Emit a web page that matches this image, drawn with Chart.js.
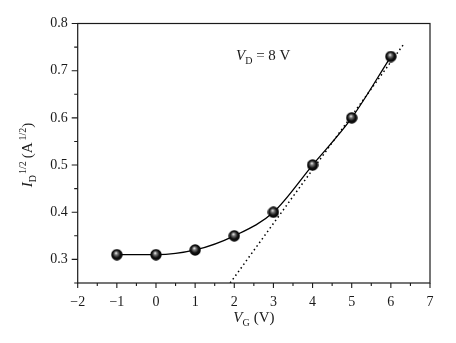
<!DOCTYPE html>
<html>
<head>
<meta charset="utf-8">
<script src="https://cdn.jsdelivr.net/npm/chart.js@4.4.1/dist/chart.umd.min.js"></script>
<style>
  html, body { margin: 0; padding: 0; background: #fff; }
  #wrap { width: 456px; height: 343px; }
  canvas { display: block; }
</style>
</head>
<body>
<div id="wrap"><canvas id="c" width="456" height="343" style="width:456px;height:343px"></canvas></div>
<script>
// Transfer characteristic: square root of drain current vs gate voltage
const gateVoltage = [-1, 0, 1, 2, 3, 4, 5, 6];
const sqrtDrainCurrent = [0.31, 0.31, 0.32, 0.35, 0.40, 0.50, 0.60, 0.73];

// Linear extrapolation of the saturation region (threshold voltage)
const fitGate = [1.895, 6.345];
const fitSqrtCurrent = [0.25, 0.758];

// Axis tick labels
const xTickValues = [-2, -1, 0, 1, 2, 3, 4, 5, 6, 7];
const xTickLabels = ['\u22122', '\u22121', '0', '1', '2', '3', '4', '5', '6', '7'];
const yTickValues = [0.3, 0.4, 0.5, 0.6, 0.7, 0.8];
const yTickLabels = ['0.3', '0.4', '0.5', '0.6', '0.7', '0.8'];

const SERIF = "'Liberation Serif', 'Times New Roman', serif";
const INK = '#1a1a1a';

// Shaded sphere used as the point marker
function makeBall(d) {
  const cv = document.createElement('canvas');
  cv.width = d; cv.height = d;
  const g = cv.getContext('2d');
  const r = d / 2;
  const grad = g.createRadialGradient(r * 0.85, r * 0.7, 0.3, r, r, r);
  grad.addColorStop(0, '#e8e8e8');
  grad.addColorStop(0.22, '#7a7a7a');
  grad.addColorStop(0.6, '#111');
  grad.addColorStop(1, '#000');
  g.fillStyle = grad;
  g.beginPath();
  g.arc(r, r, r - 0.3, 0, Math.PI * 2);
  g.fill();
  return cv;
}
const ball = makeBall(12);

function labelFor(values, labels, v) {
  for (let i = 0; i < values.length; i++) {
    if (Math.abs(values[i] - v) < 1e-6) return labels[i];
  }
  return '';
}

// Draw a run of text pieces (italic / sub / superscript) starting at x, baseline y
function drawRuns(ctx, runs, x, y, align) {
  const fontOf = r => (r.italic ? 'italic ' : '') + r.size + 'px ' + SERIF;
  let total = 0;
  runs.forEach(r => { ctx.font = fontOf(r); total += ctx.measureText(r.text).width + (r.gap || 0); });
  let cx = align === 'center' ? x - total / 2 : x;
  ctx.textBaseline = 'alphabetic';
  ctx.textAlign = 'left';
  runs.forEach(r => {
    ctx.font = fontOf(r);
    ctx.fillText(r.text, cx, y + (r.dy || 0));
    cx += ctx.measureText(r.text).width + (r.gap || 0);
  });
}

const framePlugin = {
  id: 'frameAndLabels',
  afterDraw(chart) {
    const { ctx, chartArea: a, scales } = chart;
    ctx.save();
    ctx.strokeStyle = INK;
    ctx.lineWidth = 1.2;
    ctx.strokeRect(a.left, a.top, a.right - a.left, a.bottom - a.top);

    // outward tick marks: long at labelled values, short in between
    ctx.lineWidth = 1.1;
    ctx.beginPath();
    scales.x.ticks.forEach(t => {
      const px = scales.x.getPixelForValue(t.value);
      const len = Number.isInteger(Math.round(t.value * 1000) / 1000) ? 5 : 3;
      ctx.moveTo(px, a.bottom);
      ctx.lineTo(px, a.bottom + len);
    });
    scales.y.ticks.forEach(t => {
      const py = scales.y.getPixelForValue(t.value);
      const major = labelFor(yTickValues, yTickLabels, t.value) !== '';
      ctx.moveTo(a.left, py);
      ctx.lineTo(a.left - (major ? 6 : 3.5), py);
    });
    ctx.stroke();

    ctx.fillStyle = INK;
    // x axis title: V_G (V)
    drawRuns(ctx, [
      { text: 'V', italic: true, size: 15 },
      { text: 'G', size: 10, dy: 4, gap: 4 },
      { text: '(V)', size: 15 }
    ], (a.left + a.right) / 2, 322, 'center');

    // y axis title: I_D^{1/2} (A^{1/2})
    ctx.save();
    ctx.translate(32, 155);
    ctx.rotate(-Math.PI / 2);
    drawRuns(ctx, [
      { text: 'I', italic: true, size: 15 },
      { text: 'D', size: 10, dy: 4, gap: 1 },
      { text: '1/2', size: 10, dy: -6, gap: 3 },
      { text: '(A', size: 15, gap: 2 },
      { text: '1/2', size: 10, dy: -6 },
      { text: ')', size: 15 }
    ], 0, 0, 'center');
    ctx.restore();

    // annotation: V_D = 8 V
    drawRuns(ctx, [
      { text: 'V', italic: true, size: 15 },
      { text: 'D', size: 10, dy: 4 },
      { text: ' = 8 V', size: 15 }
    ], 236, 60, 'left');
    ctx.restore();
  }
};

Chart.defaults.font.family = SERIF;
Chart.defaults.color = INK;

new Chart(document.getElementById('c'), {
  type: 'scatter',
  data: {
    datasets: [
      {
        label: 'measured',
        data: gateVoltage.map((v, i) => ({ x: v, y: sqrtDrainCurrent[i] })),
        showLine: true,
        borderColor: '#000',
        borderWidth: 1.3,
        cubicInterpolationMode: 'monotone',
        pointStyle: ball,
        pointRadius: 6,
        pointHoverRadius: 6,
        order: 0
      },
      {
        label: 'fit',
        data: fitGate.map((v, i) => ({ x: v, y: fitSqrtCurrent[i] })),
        showLine: true,
        borderColor: '#000',
        borderWidth: 1.5,
        borderDash: [1.5, 3],
        pointRadius: 0,
        pointHoverRadius: 0,
        order: 1
      }
    ]
  },
  options: {
    responsive: false,
    animation: false,
    events: [],
    layout: { padding: { left: 0, top: 23.5, right: 26, bottom: 0 } },
    plugins: { legend: { display: false }, tooltip: { enabled: false } },
    scales: {
      x: {
        type: 'linear',
        min: -2, max: 7,
        grid: { display: false, drawTicks: false },
        border: { display: false },
        ticks: {
          stepSize: 0.5,
          autoSkip: false,
          maxRotation: 0,
          padding: 11,
          font: { size: 14, family: SERIF },
          color: INK,
          callback: v => labelFor(xTickValues, xTickLabels, v)
        },
        afterFit: s => { s.height = 60; }
      },
      y: {
        type: 'linear',
        min: 0.25, max: 0.8,
        grid: { display: false, drawTicks: false },
        border: { display: false },
        ticks: {
          stepSize: 0.05,
          autoSkip: false,
          padding: 10,
          font: { size: 14, family: SERIF },
          color: INK,
          callback: v => labelFor(yTickValues, yTickLabels, v)
        },
        afterFit: s => { s.width = 77.7; }
      }
    }
  },
  plugins: [framePlugin]
});
</script>
</body>
</html>
